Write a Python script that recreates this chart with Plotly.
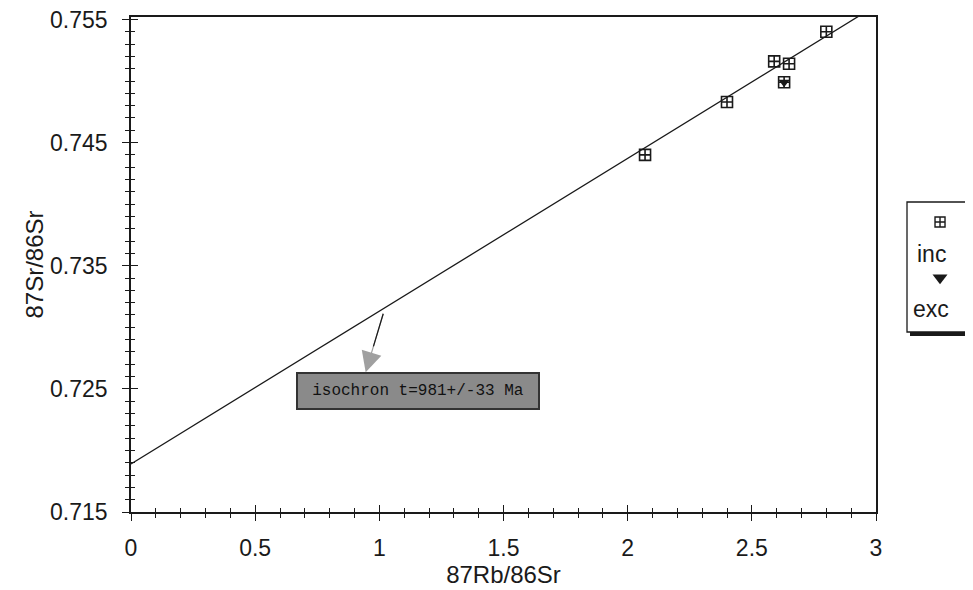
import plotly.graph_objects as go

# ---- data ----
inc_x = [2.07, 2.40, 2.59, 2.65, 2.80]
inc_y = [0.7440, 0.7483, 0.7516, 0.7514, 0.7540]
exc_x = [2.63]
exc_y = [0.7499]
iso_intercept = 0.7189
iso_slope = 0.01241
line_x = [0.0, 3.0]
line_y = [iso_intercept + iso_slope * v for v in line_x]

x_ticks = [0, 0.5, 1, 1.5, 2, 2.5, 3]
x_ticklabels = ["0", "0.5", "1", "1.5", "2", "2.5", "3"]
y_ticks = [0.715, 0.725, 0.735, 0.745, 0.755]
y_ticklabels = ["0.715", "0.725", "0.735", "0.745", "0.755"]
legend_labels = ["inc", "exc"]
iso_label = "isochron t=981+/-33 Ma"

OFF = 8  # page body margin in the browser
W, H = 965, 582
ML, MR, MT, MB = 123, 0, 9, 78
PW = W - ML - MR
PH = H - MT - MB
X_DOM = 745 / PW
XR = [0, 3]
YR = [0.715, 0.7552]

FONT = "Liberation Sans, Arial, sans-serif"
INK = "#1a1a1a"
TICK_SIZE = 23
TITLE_SIZE = 24

fig = go.Figure()

fig.add_trace(go.Scatter(x=line_x, y=line_y, mode="lines",
                         line=dict(color=INK, width=1.3), showlegend=False,
                         hoverinfo="skip"))
fig.add_trace(go.Scatter(x=inc_x, y=inc_y, mode="markers", name="inc",
                         marker=dict(symbol="square-cross-open", size=11,
                                     color=INK, line=dict(width=1.6, color=INK)),
                         showlegend=False))
fig.add_trace(go.Scatter(x=exc_x, y=exc_y, mode="markers", name="exc_box",
                         marker=dict(symbol="square-cross-open", size=11,
                                     color=INK, line=dict(width=1.6, color=INK)),
                         showlegend=False))
fig.add_trace(go.Scatter(x=exc_x, y=exc_y, mode="markers", name="exc",
                         marker=dict(symbol="triangle-down", size=10, color=INK),
                         showlegend=False))

# legend markers on a small helper axis (right of the plot area)
fig.add_trace(go.Scatter(x=[0.66], y=[0.586], xaxis="x3", yaxis="y3", mode="markers",
                         marker=dict(symbol="square-cross-open", size=10, color=INK,
                                     line=dict(width=1.4, color=INK)),
                         showlegend=False, hoverinfo="skip"))
fig.add_trace(go.Scatter(x=[0.66], y=[0.473], xaxis="x3", yaxis="y3", mode="markers",
                         marker=dict(symbol="triangle-down", size=13, color=INK),
                         showlegend=False, hoverinfo="skip"))


def px_x(p):
    return (p - OFF - ML) / PW


def px_y(p):
    return (H - MB - (p - OFF)) / PH


shapes = [
    # legend shadow and box
    dict(type="rect", xref="paper", yref="paper",
         x0=px_x(910), x1=px_x(990), y0=px_y(336), y1=px_y(205),
         fillcolor=INK, line=dict(width=0), layer="below"),
    dict(type="rect", xref="paper", yref="paper",
         x0=px_x(907), x1=px_x(985), y0=px_y(332), y1=px_y(202),
         fillcolor="white", line=dict(color=INK, width=1.3), layer="below"),
]

annotations = [
    dict(text=legend_labels[0], xref="paper", yref="paper", x=px_x(931), y=px_y(254),
         xanchor="center", yanchor="middle",
         showarrow=False, font=dict(family=FONT, size=23, color=INK)),
    dict(text=legend_labels[1], xref="paper", yref="paper", x=px_x(931), y=px_y(309),
         xanchor="center", yanchor="middle",
         showarrow=False, font=dict(family=FONT, size=23, color=INK)),
    # label box
    dict(text=iso_label, x=1.156, y=0.72484, xref="x", yref="y", showarrow=False,
         xanchor="center", yanchor="middle", width=238, height=32,
         bgcolor="#8a8a8a", bordercolor="#333333", borderwidth=2,
         font=dict(family="Liberation Mono, Courier New, monospace", size=16, color="#111")),
    # arrow: gray head
    dict(text="", x=0.945, y=0.72635, xref="x", yref="y", ax=18, ay=-60,
         showarrow=True, arrowhead=2, arrowsize=3.4, arrowwidth=1.2,
         arrowcolor="#a0a0a0"),
    # arrow: black shaft
    dict(text="", x=0.945, y=0.72635, xref="x", yref="y", ax=18, ay=-60,
         showarrow=True, arrowhead=0, arrowwidth=1.2, standoff=27,
         arrowcolor=INK),
]

axis_common = dict(showgrid=False, zeroline=False, color=INK, automargin=False)

fig.update_layout(
    width=W, height=H,
    margin=dict(l=ML, r=MR, t=MT, b=MB, pad=0, autoexpand=False),
    paper_bgcolor="white", plot_bgcolor="white",
    showlegend=False,
    font=dict(family=FONT, color=INK, size=TICK_SIZE),
    xaxis=dict(domain=[0, X_DOM], range=XR, tickmode="array", tickvals=x_ticks,
               ticktext=x_ticklabels, ticks="outside", ticklen=7, tickwidth=1.2,
               tickcolor=INK, showline=True, linecolor=INK, linewidth=1.5, mirror=True,
               minor=dict(dtick=0.1, ticks="outside", ticklen=4, tickwidth=1, tickcolor=INK),
               tickfont=dict(size=TICK_SIZE, color=INK), ticklabelstandoff=8,
               ticklabeloverflow="allow",
               title=dict(text="87Rb/86Sr", font=dict(size=TITLE_SIZE, color=INK), standoff=0),
               **axis_common),
    yaxis=dict(range=YR, tickmode="array", tickvals=y_ticks, ticktext=y_ticklabels,
               ticks="outside", ticklen=7, tickwidth=1.2, tickcolor=INK,
               showline=True, linecolor=INK, linewidth=1.5, mirror=True,
               minor=dict(dtick=0.001, tick0=0.715, ticks="outside", ticklen=4,
                          tickwidth=1, tickcolor=INK),
               tickfont=dict(size=TICK_SIZE, color=INK), ticklabelstandoff=10,
               ticklabeloverflow="allow",
               title=dict(text="87Sr/86Sr", font=dict(size=TITLE_SIZE, color=INK), standoff=0),
               **axis_common),
    xaxis2=dict(domain=[0, X_DOM], range=XR, overlaying="x", anchor="y",
                tickmode="array", tickvals=x_ticks, ticks="inside", ticklen=7,
                tickwidth=1.2, tickcolor=INK, showticklabels=False, showline=False,
                minor=dict(dtick=0.1, ticks="inside", ticklen=4, tickwidth=1, tickcolor=INK),
                **axis_common),
    yaxis2=dict(range=YR, overlaying="y", anchor="x", tickmode="array",
                tickvals=y_ticks, ticks="inside", ticklen=7, tickwidth=1.2,
                tickcolor=INK, showticklabels=False, showline=False,
                minor=dict(dtick=0.001, tick0=0.715, ticks="inside", ticklen=4,
                           tickwidth=1, tickcolor=INK),
                **axis_common),
    xaxis3=dict(domain=[X_DOM, 1], range=[0, 1], visible=False, fixedrange=True),
    yaxis3=dict(domain=[0, 1], range=[0, 1], visible=False, anchor="x3", fixedrange=True),
    shapes=shapes,
    annotations=annotations,
)

# dummy trace so overlay axes render
fig.add_trace(go.Scatter(x=[None], y=[None], xaxis="x2", yaxis="y2",
                         showlegend=False, hoverinfo="skip"))

fig.write_html("out.html")
